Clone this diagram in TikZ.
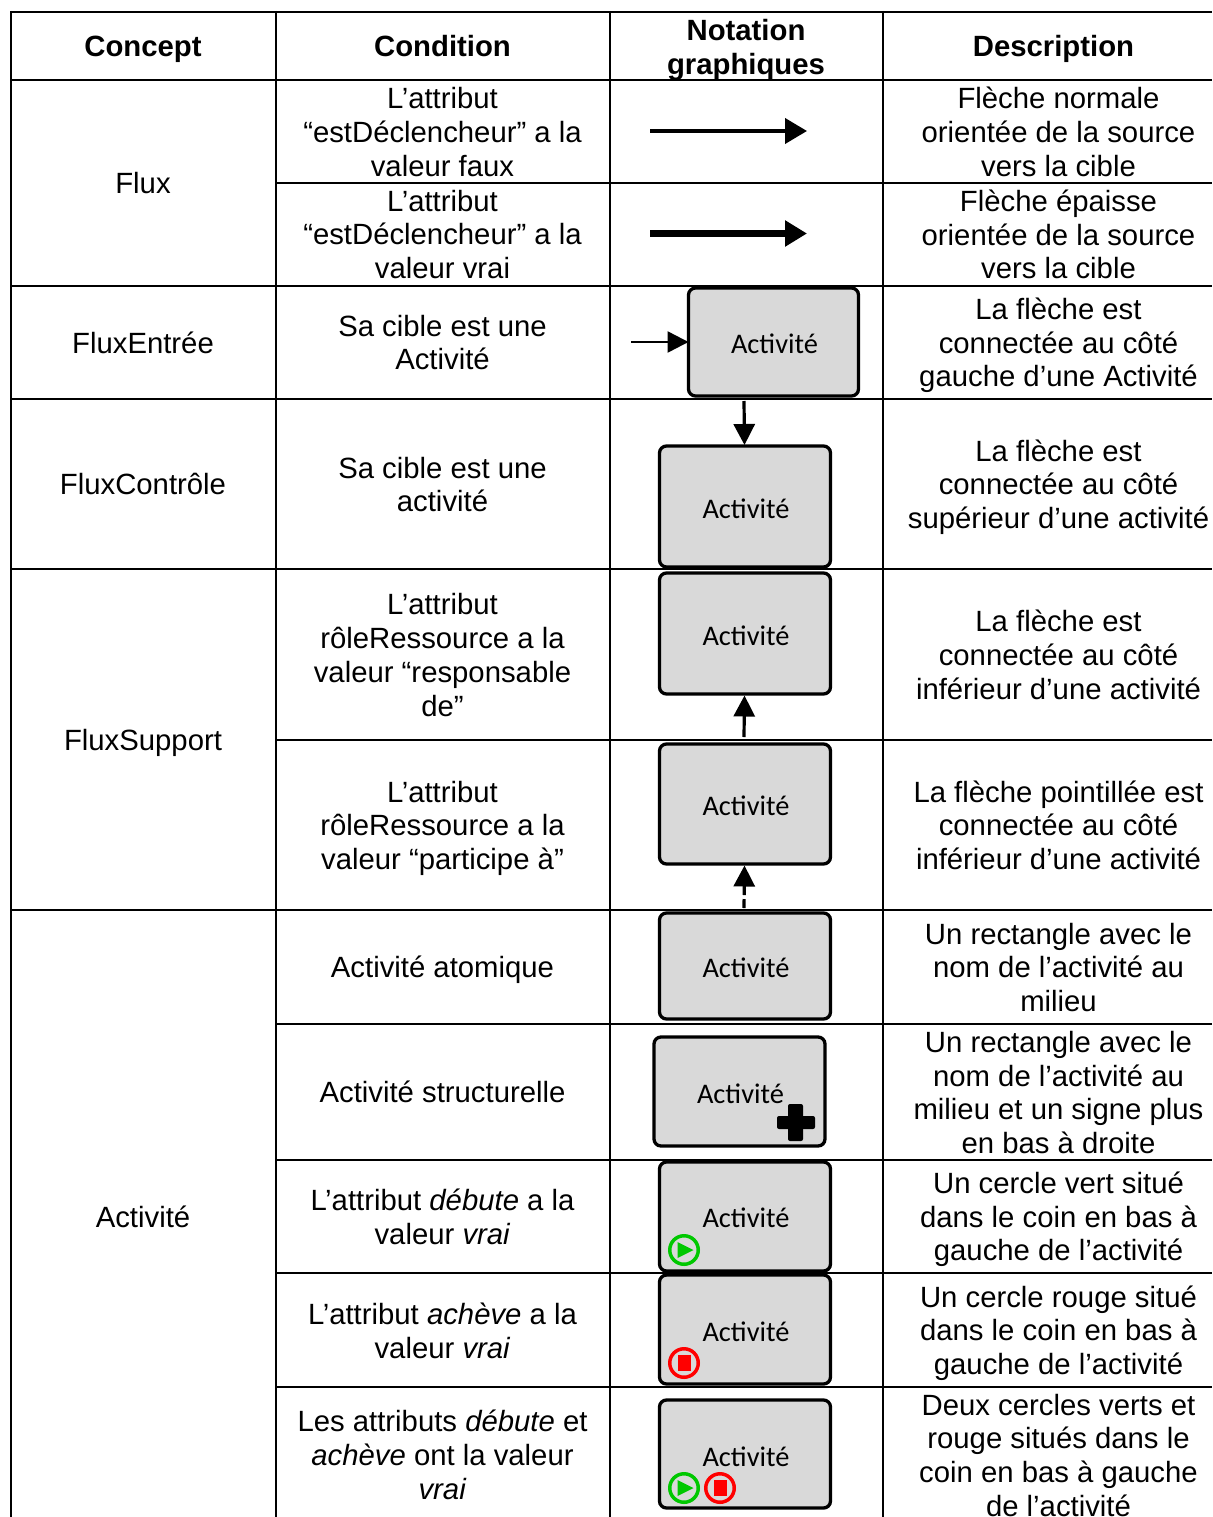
\documentclass[tikz,border=0pt]{standalone}
\usepackage{fontspec}
\setmainfont{Liberation Sans}
\newfontfamily\actfont{Carlito}
\usetikzlibrary{arrows.meta}
\definecolor{boxgray}{HTML}{D9D9D9}
\definecolor{icongreen}{HTML}{00C800}
\definecolor{iconred}{HTML}{FF0000}
\tikzset{
  cell/.style={align=center,inner sep=0pt,font=\fontsize{29.3}{33.7}\selectfont},
  head/.style={align=center,inner sep=0pt,font=\fontsize{29.3}{33.7}\selectfont\bfseries},
  rule/.style={line width=2pt,black},
  activity/.style={draw=black,line width=3.3pt,fill=boxgray,rounded corners=7pt,inner sep=0pt,outer sep=0pt,
    font=\actfont\fontsize{28.4}{32}\selectfont,anchor=north west},
  flow/.style={line width=4pt,black,-{Triangle[length=22pt,width=25pt]}},
  thickflow/.style={line width=6.5pt,black,-{Triangle[length=22pt,width=25pt]}},
  shortflow/.style={line width=3.2pt,black,-{Triangle[length=21pt,width=21pt]}},
  ring/.style={line width=3.5pt,fill=none,circle,minimum size=28.5pt,inner sep=0pt,outer sep=0pt}
}
\newcommand{\actbox}[6]{% name, x1, y1, w, h, raise
  \node[activity,minimum width=#4pt,minimum height=#5pt] (#1) at (#2,#3) {\hspace*{2pt}\raisebox{#6pt}[0pt][0pt]{Activité}};}
\newcommand{\playicon}[3]{%
  \node[ring,draw=icongreen] (#1) at (#2,#3) {};
  \fill[icongreen] (#2-6.5,#3-8) -- (#2+9.5,#3) -- (#2-6.5,#3+8) -- cycle;}
\newcommand{\stopicon}[3]{%
  \node[ring,draw=iconred] (#1) at (#2,#3) {};
  \fill[iconred] (#2-6.5,#3-8) rectangle (#2+6.5,#3+8);}
\begin{document}
\begin{tikzpicture}[x=1pt,y=-1pt]
\useasboundingbox (0,0) rectangle (1212,1517);
\fill[white] (0,0) rectangle (1212,1517);
% grid
\draw[rule] (10,12) -- (1212,12);
\draw[rule] (10,80) -- (1212,80);
\draw[rule] (276,183) -- (1212,183);
\draw[rule] (10,286) -- (1212,286);
\draw[rule] (10,399) -- (1212,399);
\draw[rule] (10,569) -- (1212,569);
\draw[rule] (276,740) -- (1212,740);
\draw[rule] (10,910) -- (1212,910);
\draw[rule] (276,1024) -- (1212,1024);
\draw[rule] (276,1160) -- (1212,1160);
\draw[rule] (276,1273) -- (1212,1273);
\draw[rule] (276,1387) -- (1212,1387);
\draw[rule] (11,11) -- (11,1517);
\draw[rule] (276,11) -- (276,1517);
\draw[rule] (610,11) -- (610,1517);
\draw[rule] (883,11) -- (883,1517);
% header
\node[head] (h1) at (143,49) {Concept};
\node[head] (h2) at (442.5,46) {Condition};
\node[head] (h3) at (746,50) {Notation\\graphiques};
\node[head] (h4) at (1053.5,49) {Description};
% concept column
\node[cell] (c1) at (143,183) {Flux};
\node[cell] (c2) at (143,343) {FluxEntrée};
\node[cell] (c3) at (143,484) {FluxContrôle};
\node[cell] (c4) at (143,743) {FluxSupport};
\node[cell] (c5) at (143,1217) {Activité};
% condition column
\node[cell] (k1) at (442.5,132) {L’attribut\\“estDéclencheur” a la\\valeur faux};
\node[cell] (k2) at (442.5,234.5) {L’attribut\\“estDéclencheur” a la\\valeur vrai};
\node[cell] (k3) at (442.5,342.5) {Sa cible est une\\Activité};
\node[cell] (k4) at (442.5,484.5) {Sa cible est une\\activité};
\node[cell] (k5) at (442.5,655) {L’attribut\\rôleRessource a la\\valeur “responsable\\de”};
\node[cell] (k6) at (442.5,828.2) {L’attribut\\rôleRessource a la\\valeur “participe à”};
\node[cell] (k7) at (442.5,970) {Activité atomique};
\node[cell] (k8) at (442.5,1092) {Activité structurelle};
\node[cell] (k9) at (442.5,1217) {L’attribut \textit{débute} a la\\valeur \textit{vrai}};
\node[cell] (k10) at (442.5,1331) {L’attribut \textit{achève} a la\\valeur \textit{vrai}};
\node[cell] (k11) at (442.5,1455) {Les attributs \textit{débute} et\\\textit{achève} ont la valeur\\\textit{vrai}};
% description column
\node[cell] (d1) at (1058.5,132) {Flèche normale\\orientée de la source\\vers la cible};
\node[cell] (d2) at (1058.5,234.5) {Flèche épaisse\\orientée de la source\\vers la cible};
\node[cell] (d3) at (1058.5,345.5) {La flèche est\\connectée au côté\\gauche d’une Activité};
\node[cell] (d4) at (1058.5,487) {La flèche est\\connectée au côté\\supérieur d’une activité};
\node[cell] (d5) at (1058.5,655) {La flèche est\\connectée au côté\\inférieur d’une activité};
\node[cell] (d6) at (1058.5,825.2) {La flèche pointillée est\\connectée au côté\\inférieur d’une activité};
\node[cell] (d7) at (1058.5,967.5) {Un rectangle avec le\\nom de l’activité au\\milieu};
\node[cell] (d8) at (1058.5,1092.5) {Un rectangle avec le\\nom de l’activité au\\milieu et un signe plus\\en bas à droite};
\node[cell] (d9) at (1058.5,1219.5) {Un cercle vert situé\\dans le coin en bas à\\gauche de l’activité};
\node[cell] (d10) at (1058.5,1333) {Un cercle rouge situé\\dans le coin en bas à\\gauche de l’activité};
\node[cell] (d11) at (1058.5,1455.3) {Deux cercles verts et\\rouge situés dans le\\coin en bas à gauche\\de l’activité};
% activity boxes
\actbox{a1}{688.5}{288}{170}{108}{-11}
\actbox{a2}{659.5}{446}{171}{121}{-11.5}
\actbox{a3}{659.5}{573}{171}{121}{-11.5}
\actbox{a4}{659.5}{744}{171}{120}{-11}
\actbox{a5}{659.5}{913}{171}{106}{-11}
\actbox{a6}{654}{1037}{171}{109}{-12}
\actbox{a7}{659.5}{1162}{171}{109}{-11}
\actbox{a8}{659.5}{1275}{171}{109}{-11.5}
\actbox{a9}{659.5}{1400}{171}{108}{-12}
% flows
\coordinate (f1s) at (650,131); \coordinate (f1e) at (807,131);
\coordinate (f2s) at (650,233.5); \coordinate (f2e) at (807,233.5);
\draw[flow] (f1s) -- (f1e);
\draw[thickflow] (f2s) -- (f2e);
\coordinate (f3s) at (631,342);
\draw[shortflow,line width=2.5pt] (f3s) -- (a1.west |- f3s);
\coordinate (f4s) at (744,401);
\draw[shortflow] (f4s) -- (744.5,445);
\coordinate (f5s) at (744,737); \coordinate (f5e) at (744.5,695.5);
\draw[shortflow] (f5s) -- (f5e);
\coordinate (f6s) at (744,908); \coordinate (f6e) at (744.5,865.5);
\draw[shortflow,dash pattern=on 9pt off 4pt] (f6s) -- (f6e);
% plus sign
\fill[black,rounded corners=2pt] (777,1116) rectangle (815,1129);
\fill[black,rounded corners=2pt] (788,1104) rectangle (803,1141);
% icons
\playicon{p1}{684}{1250}
\stopicon{s1}{684}{1363}
\playicon{p2}{684}{1488}
\stopicon{s2}{720}{1488}
\end{tikzpicture}
\end{document}
